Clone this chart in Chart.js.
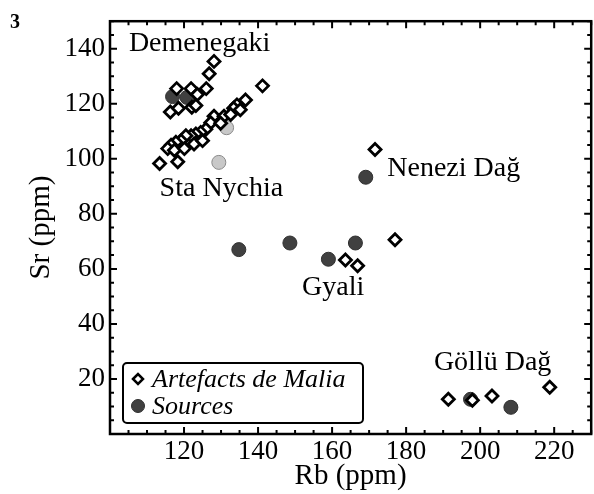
<!DOCTYPE html>
<html>
<head>
<meta charset="utf-8">
<script src="https://cdn.jsdelivr.net/npm/chart.js@4.4.1/dist/chart.umd.min.js"></script>
<style>
  html, body { margin: 0; padding: 0; background: #fff; overflow: hidden; }
  #wrap { width: 600px; height: 494px; }
</style>
</head>
<body>
<div id="wrap"><canvas id="chart" width="600" height="494"></canvas></div>
<script>
// Rb / Sr (ppm)
const artefactsRb = [
  128.1, 126.8, 126.0, 121.9, 118.0, 123.6, 116.3, 118.5, 122.1, 123.2,
  141.2, 136.6, 134.3,
  133.4, 135.2, 128.1, 130.8, 132.6, 127.2, 129.9, 125.9, 124.5, 123.2,
  121.9, 120.5, 119.2, 117.8, 116.5, 115.6, 117.4, 120.1, 122.7, 125.0,
  113.4, 118.3,
  171.6,
  163.6, 166.9, 177.0,
  191.4, 197.9, 203.2, 218.8
];
const artefactsSr = [
  135.4, 130.9, 125.5, 125.5, 125.5, 123.4, 117.0, 118.4, 118.7, 119.4,
  126.5, 121.4, 119.6,
  118.4, 117.8, 115.5, 115.5, 116.1, 113.1, 112.9, 110.7, 109.6, 109.0,
  108.4, 108.4, 106.6, 106.0, 104.9, 103.7, 103.1, 103.7, 105.4, 106.6,
  98.3, 98.9,
  103.4,
  63.2, 61.1, 70.6,
  12.6, 12.3, 13.8, 17.0
];

const sourcesRb = [116.9, 120.8, 169.1, 134.8, 148.6, 159.0, 166.3, 197.4, 208.3, 131.5, 129.4];
const sourcesSr = [122.6, 122.3, 93.3, 67.0, 69.4, 63.5, 69.4, 12.6, 9.7, 111.3, 98.7];
const sourceSite = [
  'Demenegaki', 'Demenegaki', 'Nenezi Dağ', 'Gyali', 'Gyali', 'Gyali', 'Gyali',
  'Göllü Dağ', 'Göllü Dağ', 'Sta Nychia', 'Sta Nychia'
];

const siteNames = ['Demenegaki', 'Sta Nychia', 'Nenezi Dağ', 'Gyali', 'Göllü Dağ'];
const siteLabelAt = [[105.1, 139.1], [113.4, 86.5], [174.9, 93.6], [151.9, 50.5], [187.5, 23.4]];

const seriesNames = ['Artefacts de Malia', 'Sources'];
const xTicks = [120, 140, 160, 180, 200, 220];
const yTicks = [20, 40, 60, 80, 100, 120, 140];

const serif = "'Liberation Serif', 'Times New Roman', Times, serif";
const darkGrey = '#404040';
const lightGrey = '#c8c8c8';

Chart.defaults.font.family = serif;
Chart.defaults.color = '#000';

const toPoints = (xs, ys) => xs.map((x, i) => ({ x, y: ys[i] }));

// inward ticks on all four sides + frame
const frameTicks = {
  id: 'frameTicks',
  afterDatasetsDraw(chart) {
    const { ctx, chartArea: a, scales: { x, y } } = chart;
    ctx.save();
    ctx.strokeStyle = '#000';
    ctx.lineWidth = 2;
    ctx.beginPath();
    for (let v = 100; v <= 230; v += 5) {
      const px = x.getPixelForValue(v);
      const len = v % 20 === 0 ? 7 : 4;
      ctx.moveTo(px, a.bottom); ctx.lineTo(px, a.bottom - len);
      ctx.moveTo(px, a.top); ctx.lineTo(px, a.top + len);
    }
    for (let v = 0; v <= 150; v += 5) {
      const py = y.getPixelForValue(v);
      const len = v % 20 === 0 ? 7 : 4;
      ctx.moveTo(a.left, py); ctx.lineTo(a.left + len, py);
      ctx.moveTo(a.right, py); ctx.lineTo(a.right - len, py);
    }
    ctx.stroke();
    ctx.lineWidth = 2.5;
    ctx.strokeRect(a.left, a.top, a.right - a.left, a.bottom - a.top);
    ctx.restore();
  }
};

const siteLabels = {
  id: 'siteLabels',
  afterDatasetsDraw(chart) {
    const { ctx, scales: { x, y } } = chart;
    ctx.save();
    ctx.fillStyle = '#000';
    ctx.font = '28px ' + serif;
    ctx.textAlign = 'left';
    ctx.textBaseline = 'alphabetic';
    siteNames.forEach((name, i) => {
      const [vx, vy] = siteLabelAt[i];
      ctx.fillText(name, x.getPixelForValue(vx), y.getPixelForValue(vy));
    });
    // panel number
    ctx.font = 'bold 20px ' + serif;
    ctx.fillText('3', 10, 28);
    ctx.restore();
  }
};

const boxLegend = {
  id: 'boxLegend',
  afterDraw(chart) {
    const { ctx, chartArea: a } = chart;
    const left = a.left + 13, top = a.bottom - 71, w = 240, h = 60;
    ctx.save();
    ctx.fillStyle = '#fff';
    ctx.strokeStyle = '#000';
    ctx.lineWidth = 2;
    ctx.beginPath();
    ctx.roundRect(left, top, w, h, 4);
    ctx.fill();
    ctx.stroke();

    const rows = [top + 16, top + 43];
    chart.data.datasets.forEach((ds, i) => {
      ctx.fillStyle = i === 0 ? '#fff' : darkGrey;
      ctx.strokeStyle = i === 0 ? '#000' : '#303030';
      ctx.lineWidth = i === 0 ? 2.5 : 1;
      Chart.helpers.drawPoint(ctx, {
        pointStyle: ds.pointStyle,
        radius: i === 0 ? 5 : 6.5,
        borderWidth: ctx.lineWidth
      }, left + 15, rows[i]);
      ctx.fillStyle = '#000';
      ctx.font = 'italic 26px ' + serif;
      ctx.textAlign = 'left';
      ctx.textBaseline = 'middle';
      ctx.fillText(ds.label, left + 29, rows[i] + 1);
    });
    ctx.restore();
  }
};

new Chart(document.getElementById('chart'), {
  type: 'scatter',
  data: {
    datasets: [
      {
        label: seriesNames[0],
        data: toPoints(artefactsRb, artefactsSr),
        pointStyle: 'rectRot',
        pointRadius: 6,
        pointBorderWidth: 2.8,
        pointBorderColor: '#000',
        pointBackgroundColor: '#fff'
      },
      {
        label: seriesNames[1],
        data: toPoints(sourcesRb, sourcesSr),
        pointStyle: 'circle',
        pointRadius: 7,
        pointBorderWidth: 1,
        pointBorderColor: sourceSite.map(s => s === 'Sta Nychia' ? '#8a8a8a' : '#303030'),
        pointBackgroundColor: sourceSite.map(s => s === 'Sta Nychia' ? lightGrey : darkGrey)
      }
    ]
  },
  options: {
    responsive: false,
    animation: false,
    events: [],
    layout: { padding: { top: 11, right: 4, left: 0, bottom: 0 } },
    plugins: {
      legend: { display: false },
      tooltip: { enabled: false }
    },
    scales: {
      x: {
        type: 'linear',
        min: 100,
        max: 230,
        afterFit(scale) { scale.height = 60; },
        afterBuildTicks(scale) { scale.ticks = xTicks.map(v => ({ value: v })); },
        grid: { display: false, drawTicks: false },
        border: { display: false },
        ticks: {
          padding: 2,
          color: '#000',
          font: { family: serif, size: 27 }
        },
        title: {
          display: true,
          text: 'Rb (ppm)',
          color: '#000',
          font: { family: serif, size: 29 },
          padding: { top: 0, bottom: 0 }
        }
      },
      y: {
        type: 'linear',
        min: 0,
        max: 150,
        afterFit(scale) { scale.width = 110; },
        afterBuildTicks(scale) { scale.ticks = yTicks.map(v => ({ value: v })); },
        grid: { display: false, drawTicks: false },
        border: { display: false },
        ticks: {
          padding: 5,
          color: '#000',
          font: { family: serif, size: 27 }
        },
        title: {
          display: true,
          text: 'Sr (ppm)',
          color: '#000',
          font: { family: serif, size: 29 },
          padding: { top: 24, bottom: 0 }
        }
      }
    }
  },
  plugins: [frameTicks, siteLabels, boxLegend]
});
</script>
</body>
</html>
